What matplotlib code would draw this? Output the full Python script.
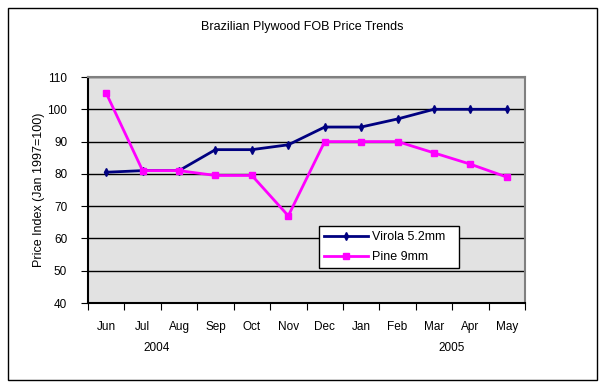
import numpy as np
import matplotlib.pyplot as plt
import matplotlib.patches as mpatches

plt.rcParams['font.family'] = ['Liberation Sans', 'DejaVu Sans']

months = ["Jun", "Jul", "Aug", "Sep", "Oct", "Nov", "Dec", "Jan", "Feb", "Mar", "Apr", "May"]
virola = [80.5, 81, 81, 87.5, 87.5, 89, 94.5, 94.5, 97, 100, 100, 100]
pine = [105, 81, 81, 79.5, 79.5, 67, 90, 90, 90, 86.5, 83, 79]
yticks = [40, 50, 60, 70, 80, 90, 100, 110]

fig = plt.figure(figsize=(6.05, 3.9), dpi=100)
fig.patches.append(mpatches.Rectangle((8 / 605, 10 / 390), 589 / 605, 372 / 390,
                                      transform=fig.transFigure, fill=False,
                                      edgecolor="black", linewidth=1))

ax = fig.add_axes([88 / 605, 87 / 390, 437 / 605, 226 / 390])
ax.set_facecolor("#e2e2e2")

x = np.arange(len(months))
ax.plot(x, virola, color="#000080", marker="d", markersize=4, linewidth=2, label="Virola 5.2mm")
ax.plot(x, pine, color="#ff00ff", marker="s", markersize=4.5, linewidth=2, label="Pine 9mm")

ax.set_xlim(-0.5, len(months) - 0.5)
ax.set_ylim(40, 110)
ax.set_yticks(yticks)
ax.set_yticklabels([str(v) for v in yticks], fontsize=8.5)
ax.yaxis.grid(True, color="black", linewidth=1)
ax.set_axisbelow(True)

ax.set_xticks(np.arange(len(months) + 1) - 0.5)
ax.set_xticklabels([])
ax.set_xticks(x, minor=True)
ax.set_xticklabels(months, minor=True, fontsize=8.5)
ax.tick_params(axis="x", which="minor", length=0, pad=13)
ax.tick_params(axis="x", which="major", length=5, direction="out", color="black")
ax.tick_params(axis="y", length=5, color="black", pad=10)

for side in ["top", "right"]:
    ax.spines[side].set_color("#808080")
    ax.spines[side].set_linewidth(1.5)
for side in ["left", "bottom"]:
    ax.spines[side].set_color("black")
    ax.spines[side].set_linewidth(1.5)

ax.set_ylabel("Price Index (Jan 1997=100)", fontsize=9, labelpad=2)

fig.text(302 / 605, 1 - 27 / 390, "Brazilian Plywood FOB Price Trends", ha="center", va="center", fontsize=9)
fig.text(157 / 605, 1 - 348 / 390, "2004", ha="center", va="center", fontsize=8.5)
fig.text(452 / 605, 1 - 348 / 390, "2005", ha="center", va="center", fontsize=8.5)

leg = ax.legend(loc="lower left", bbox_to_anchor=(0.529, 0.155, 0.32, 0.208), mode="expand",
                fancybox=False, framealpha=1, edgecolor="black", fontsize=9,
                handlelength=3.5, handletextpad=0.3, labelspacing=0.6, borderaxespad=0)
leg.get_frame().set_linewidth(1)

plt.savefig("out.png", dpi=100)
